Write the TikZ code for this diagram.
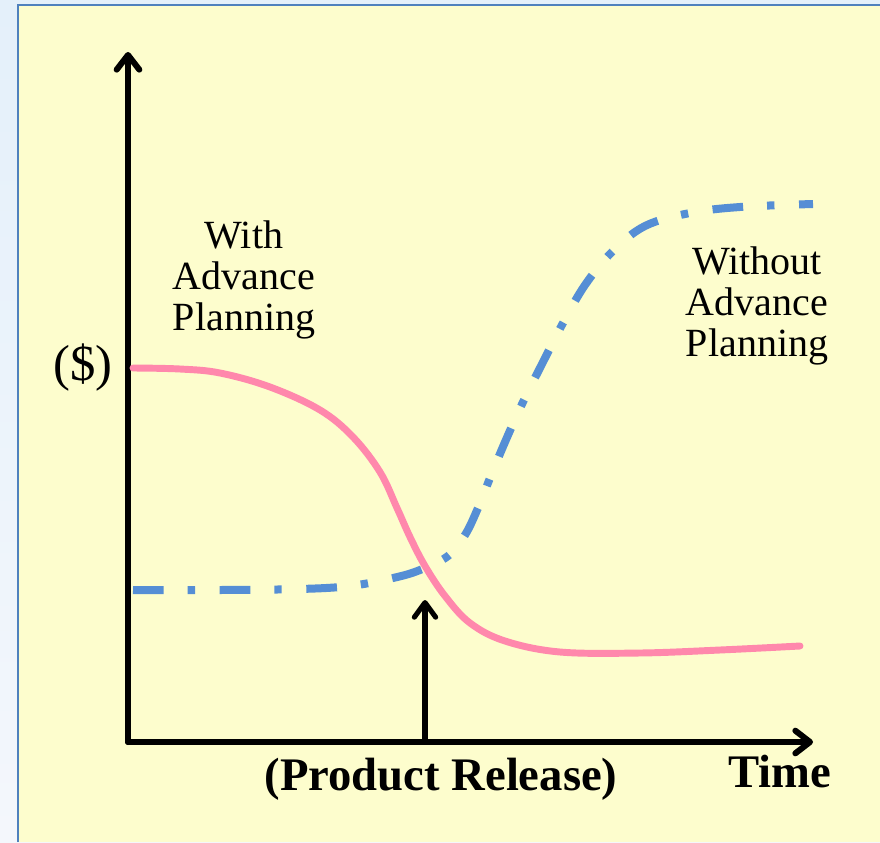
\documentclass[tikz,border=0pt]{standalone}
\usepackage{fontspec}
\setmainfont{Liberation Serif}
\usetikzlibrary{arrows.meta}
\definecolor{pagebg}{RGB}{228,240,250}
\definecolor{pagebgtwo}{RGB}{244,247,252}
\definecolor{panel}{RGB}{253,253,205}
\definecolor{frameblue}{RGB}{79,129,189}
\definecolor{pinkc}{RGB}{255,136,172}
\definecolor{bluec}{RGB}{85,142,213}
\tikzset{
  axis/.style={line width=4.5pt, line cap=round, line join=round,
      -{Straight Barb[length=11pt,width=17pt,round]}},
  marker/.style={line width=3.8pt, line cap=round, line join=round,
      -{Straight Barb[length=11pt,width=16pt,round]}},
  costplan/.style={draw=pinkc, line width=5.2pt, line cap=round},
  costnoplan/.style={draw=bluec, line width=6pt,
      dash pattern=on 23pt off 18pt on 5.5pt off 18.5pt},
  lbl/.style={font=\fontsize{30}{30.8}\selectfont, align=center, inner sep=0pt},
  blbl/.style={font=\fontsize{35}{36}\selectfont\bfseries, inner sep=0pt},
}
\begin{document}
\begin{tikzpicture}[x=0.75pt, y=-0.75pt]
\useasboundingbox (0,0) rectangle (880,842);
\clip (0,0) rectangle (880,842);
% page and panel
\shade[top color=pagebg, bottom color=pagebgtwo] (0,0) rectangle (880,842);
\fill[panel] (18,5) rectangle (880,842);
\draw[frameblue, line width=1.8pt] (18,842) -- (18,5) -- (880,5);

% named points of the chart
\coordinate (origin) at (128,742);
\coordinate (ytop) at (128,52);
\coordinate (xend) at (813,742);
\coordinate (release) at (425,742);
\coordinate (releasetip) at (425,600);

% axes and release marker
\draw[axis] (origin) -- (ytop);
\draw[axis] (origin) -- (xend);
\draw[marker] (release) -- (releasetip);

% cost curve with advance planning
\draw[costplan] plot[smooth, tension=0.6] coordinates {
  (133,368) (180,369) (220,373) (270,387) (320,410) (353,437)
  (380,472) (397,508) (410,537) (425,566) (445,596) (470,623)
  (505,641) (560,652) (640,653) (720,650) (800,646)};

% cost curve without advance planning
\draw[costnoplan] plot[smooth, tension=0.6] coordinates {
  (133,590) (220,590) (300,589) (350,586) (393,578) (420,570)
  (448,556) (465,535) (478,508) (490,478) (505,442) (523,402)
  (543,362) (563,323) (585,285) (612,252) (645,226) (690,213)
  (740,207) (813,204)};

% labels
\node[lbl] (withplan) at (244,280) {With\\Advance\\Planning};
\node[lbl] (withoutplan) at (757,306) {Without\\Advance\\Planning};
\node[lbl, font=\fontsize{38}{40}\selectfont] (dollar) at (83,368) {(\$)};
\node[blbl, anchor=base] (releaselbl) at (441,790) {(Product Release)};
\node[blbl, anchor=base] (timelbl) at (780,787) {Time};
\end{tikzpicture}
\end{document}
